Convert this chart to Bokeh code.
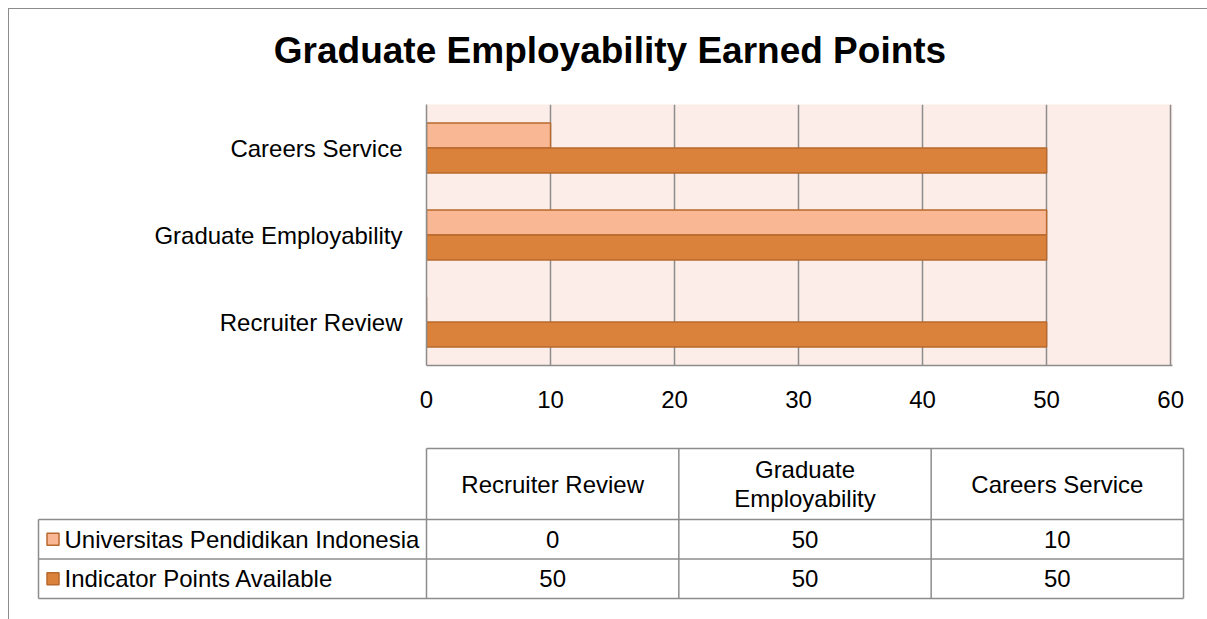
from bokeh.plotting import figure
from bokeh.models import FactorRange, Range1d, FixedTicker, ColumnDataSource
from bokeh.transform import dodge
from bokeh.layouts import column
from bokeh.core.properties import value
from bokeh.embed import file_html
from bokeh.resources import INLINE

# ---------------- data ----------------
categories = ["Recruiter Review", "Graduate Employability", "Careers Service"]
series_names = ["Universitas Pendidikan Indonesia", "Indicator Points Available"]
univ_points = [0, 50, 10]
available_points = [50, 50, 50]
x_ticks = [0, 10, 20, 30, 40, 50, 60]
header_labels = ["Recruiter Review", "Graduate\nEmployability", "Careers Service"]
title_text = "Graduate Employability Earned Points"

# ---------------- styles ----------------
FONT = "Liberation Sans"
LIGHT = "#f9b893"
DARK = "#da823c"
EDGE = "#b8692e"
GRID = "#8c8c8c"
BG = "#fcede8"
W = 1198

# ---------------- title strip ----------------
TITLE_H = 82
pT = figure(width=W, height=TITLE_H, x_range=Range1d(0, W), y_range=Range1d(0, TITLE_H),
            output_backend="svg", toolbar_location=None,
            x_axis_type=None, y_axis_type=None,
            min_border_left=0, min_border_right=0, min_border_top=0, min_border_bottom=0)
pT.frame_align = False
pT.outline_line_color = None
pT.grid.visible = False
pT.text(x=[600.5], y=[TITLE_H - 41], text=[title_text], text_align="center",
        text_baseline="middle", text_font=value(FONT), text_font_size="37px",
        text_font_style="bold", text_color="black")

# ---------------- bar chart ----------------
pA = figure(width=W, height=421 - TITLE_H,
            y_range=FactorRange(*categories), x_range=Range1d(0, 60.15),
            output_backend="svg", toolbar_location=None,
            min_border_left=417, min_border_right=35,
            min_border_top=95 - TITLE_H, min_border_bottom=65)
pA.frame_align = False
pA.y_range.range_padding = 0

src = ColumnDataSource(dict(cat=categories, univ=univ_points, avail=available_points))
bar_h = 0.287
pA.hbar(y=dodge("cat", bar_h / 2, range=pA.y_range), left=0, right="univ", height=bar_h,
        source=src, fill_color=LIGHT, line_color=EDGE, line_width=1.5)
pA.hbar(y=dodge("cat", -bar_h / 2, range=pA.y_range), left=0, right="avail", height=bar_h,
        source=src, fill_color=DARK, line_color=EDGE, line_width=1.5)

pA.background_fill_color = BG
pA.outline_line_color = None
pA.ygrid.grid_line_color = None
pA.xgrid.ticker = FixedTicker(ticks=x_ticks)
pA.xgrid.grid_line_color = GRID
pA.xgrid.grid_line_width = 1.5
pA.xaxis.ticker = FixedTicker(ticks=x_ticks)
for ax in (pA.xaxis[0], pA.yaxis[0]):
    ax.axis_line_color = GRID
    ax.axis_line_width = 1.5
    ax.major_tick_line_color = None
    ax.minor_tick_line_color = None
    ax.major_tick_out = 0
    ax.major_tick_in = 0
    ax.major_label_text_font = FONT
    ax.major_label_text_font_size = "24px"
    ax.major_label_text_color = "black"
pA.xaxis.major_label_standoff = 25
pA.yaxis.major_label_standoff = 24

# ---------------- data table ----------------
n_cat = len(categories)
n_ser = len(series_names)
COL_PX = 252.33
ROW_PX = 39.5
LABEL_W = 388 / COL_PX
HEADER_H = 150 / ROW_PX - n_ser
top = n_ser + HEADER_H

pB = figure(width=W, height=189,
            x_range=Range1d(-LABEL_W - 4 / COL_PX, n_cat + 4 / COL_PX),
            y_range=Range1d(-4 / ROW_PX, top + 5 / ROW_PX),
            output_backend="svg", toolbar_location=None,
            x_axis_type=None, y_axis_type=None,
            min_border_left=25, min_border_right=20,
            min_border_top=13, min_border_bottom=17)
pB.frame_align = False
pB.outline_line_color = None
pB.grid.visible = False

# grid lines of the table
x0s, y0s, x1s, y1s = [], [], [], []
for r in range(n_ser + 1):
    x0s.append(-LABEL_W); x1s.append(n_cat); y0s.append(r); y1s.append(r)
x0s.append(0); x1s.append(n_cat); y0s.append(top); y1s.append(top)
x0s.append(-LABEL_W); x1s.append(-LABEL_W); y0s.append(0); y1s.append(n_ser)
for c in range(n_cat + 1):
    x0s.append(c); x1s.append(c); y0s.append(0); y1s.append(top)
pB.segment(x0=x0s, y0=y0s, x1=x1s, y1=y1s, line_color=GRID, line_width=1.5)

# header texts
pB.text(x=[i + 0.5 for i in range(n_cat)], y=[n_ser + HEADER_H / 2] * n_cat,
        text=header_labels, text_align="center", text_baseline="middle",
        text_font=value(FONT), text_font_size="24px", text_color="black",
        text_line_height=1.04)

# value cells
series_values = [univ_points, available_points]
series_colors = [LIGHT, DARK]
vx, vy, vt = [], [], []
for s, vals in enumerate(series_values):
    row_y = n_ser - s - 0.5
    for i, v in enumerate(vals):
        vx.append(i + 0.5); vy.append(row_y); vt.append(str(v))
pB.text(x=vx, y=vy, text=vt, text_align="center", text_baseline="middle",
        text_font=value(FONT), text_font_size="24px", text_color="black")

# legend keys + series names
row_ys = [n_ser - s - 0.5 for s in range(n_ser)]
pB.rect(x=[-LABEL_W + 14.5 / COL_PX] * n_ser, y=row_ys, width=12, height=12,
        width_units="screen", height_units="screen",
        fill_color=series_colors, line_color=EDGE, line_width=1.5)
pB.text(x=[-LABEL_W] * n_ser, y=row_ys, text=series_names, x_offset=26,
        text_align="left", text_baseline="middle",
        text_font=value(FONT), text_font_size="24px", text_color="black")

layout = column(pT, pA, pB, spacing=0, margin=(8, 0, 0, 8),
                styles={"border-left": "1px solid #8c8c8c", "border-top": "1px solid #8c8c8c"})

open("out.html", "w").write(file_html(layout, INLINE))
